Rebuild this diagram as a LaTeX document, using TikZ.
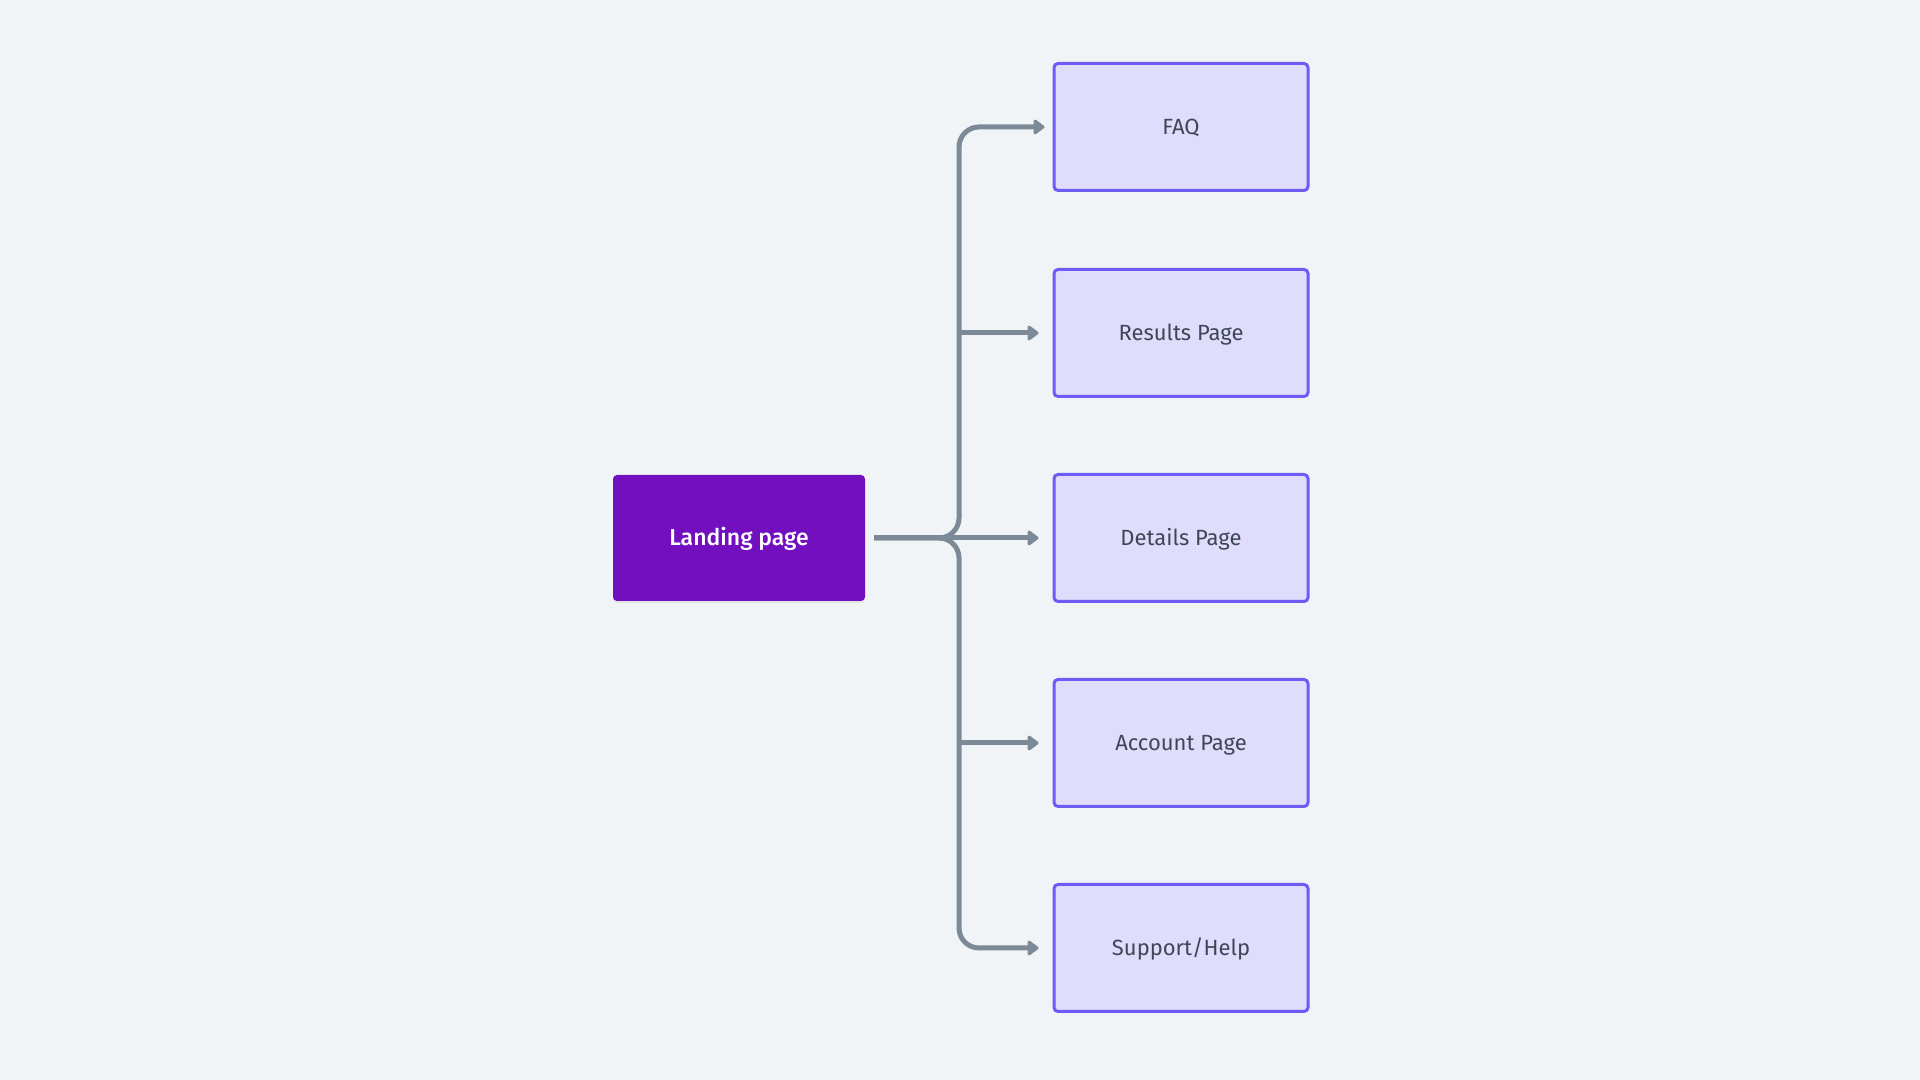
\documentclass[tikz,border=0pt]{standalone}
\usepackage{fontspec}
\setmainfont{Fira Sans}
\newfontfamily\medfont{Fira Sans Medium}
\usepackage{tikz}
\usetikzlibrary{arrows.meta,positioning,shadows}
\tikzset{
    >={Triangle[length=6pt,width=8.5pt,round]},
    every node/.style={rounded corners=2pt}
}

\begin{document}
\begin{tikzpicture}[x=1pt,y=1pt]
  % colours taken from the flow chart
  \definecolor{bgColor}{RGB}{240,244,247}     % page background
  \definecolor{startColor}{RGB}{114,16,192}   % deep violet
  \definecolor{pageFill}{RGB}{223,220,252}    % pale lavender
  \definecolor{pageEdge}{RGB}{108,92,245}     % blue-violet border
  \definecolor{linkColor}{RGB}{124,137,150}   % slate grey
  \definecolor{textColor}{RGB}{63,71,86}

  % common styles
  \tikzset{
    start/.style={
      rectangle,
      minimum width=126pt,
      minimum height=63pt,
      fill=startColor,
      text=white,
      text height=7.9pt,
      text depth=0pt,
      font=\medfont\fontsize{11.5}{14}\selectfont,
      drop shadow={opacity=0.12, shadow xshift=0pt, shadow yshift=-1pt}
    },
    page/.style={
      rectangle,
      minimum width=127pt,
      minimum height=63.5pt,
      draw=pageEdge,
      line width=1.5pt,
      fill=pageFill,
      text=textColor,
      text height=7.6pt,
      text depth=0pt,
      font=\fontsize{11}{14}\selectfont
    },
    link/.style={
      draw=linkColor,
      line width=2.5pt,
      rounded corners=10pt,
      ->,
      shorten <=4.5pt,
      shorten >=7pt
    }
  }

  % canvas 960 x 540
  \fill[bgColor] (0,0) rectangle (960,540);
  \useasboundingbox (0,0) rectangle (960,540);

  % left: entry point, right: column of pages
  \node[start] (landing) at (369.5,271)   {Landing page};
  \node[page]  (faq)     at (590.5,476.5) {FAQ};
  \node[page]  (results) at (590.5,373.5) {Results Page};
  \node[page]  (details) at (590.5,271)   {Details Page};
  \node[page]  (account) at (590.5,168.5) {Account Page};
  \node[page]  (support) at (590.5,66)    {Support/Help};

  % the trunk runs at x = 479.5
  \coordinate (hub)  at (479.5,271);
  \coordinate (resB) at (hub |- results);
  \coordinate (accB) at (hub |- account);

  \draw[link, shorten >=4pt] (landing.east) -- (hub) |- (faq.west);
  \draw[link] (landing.east) -- (hub) |- (support.west);
  \draw[link] (landing.east) -- (details.west);
  \draw[link, shorten <=0pt] (resB) -- (results.west);
  \draw[link, shorten <=0pt] (accB) -- (account.west);
\end{tikzpicture}
\end{document}
